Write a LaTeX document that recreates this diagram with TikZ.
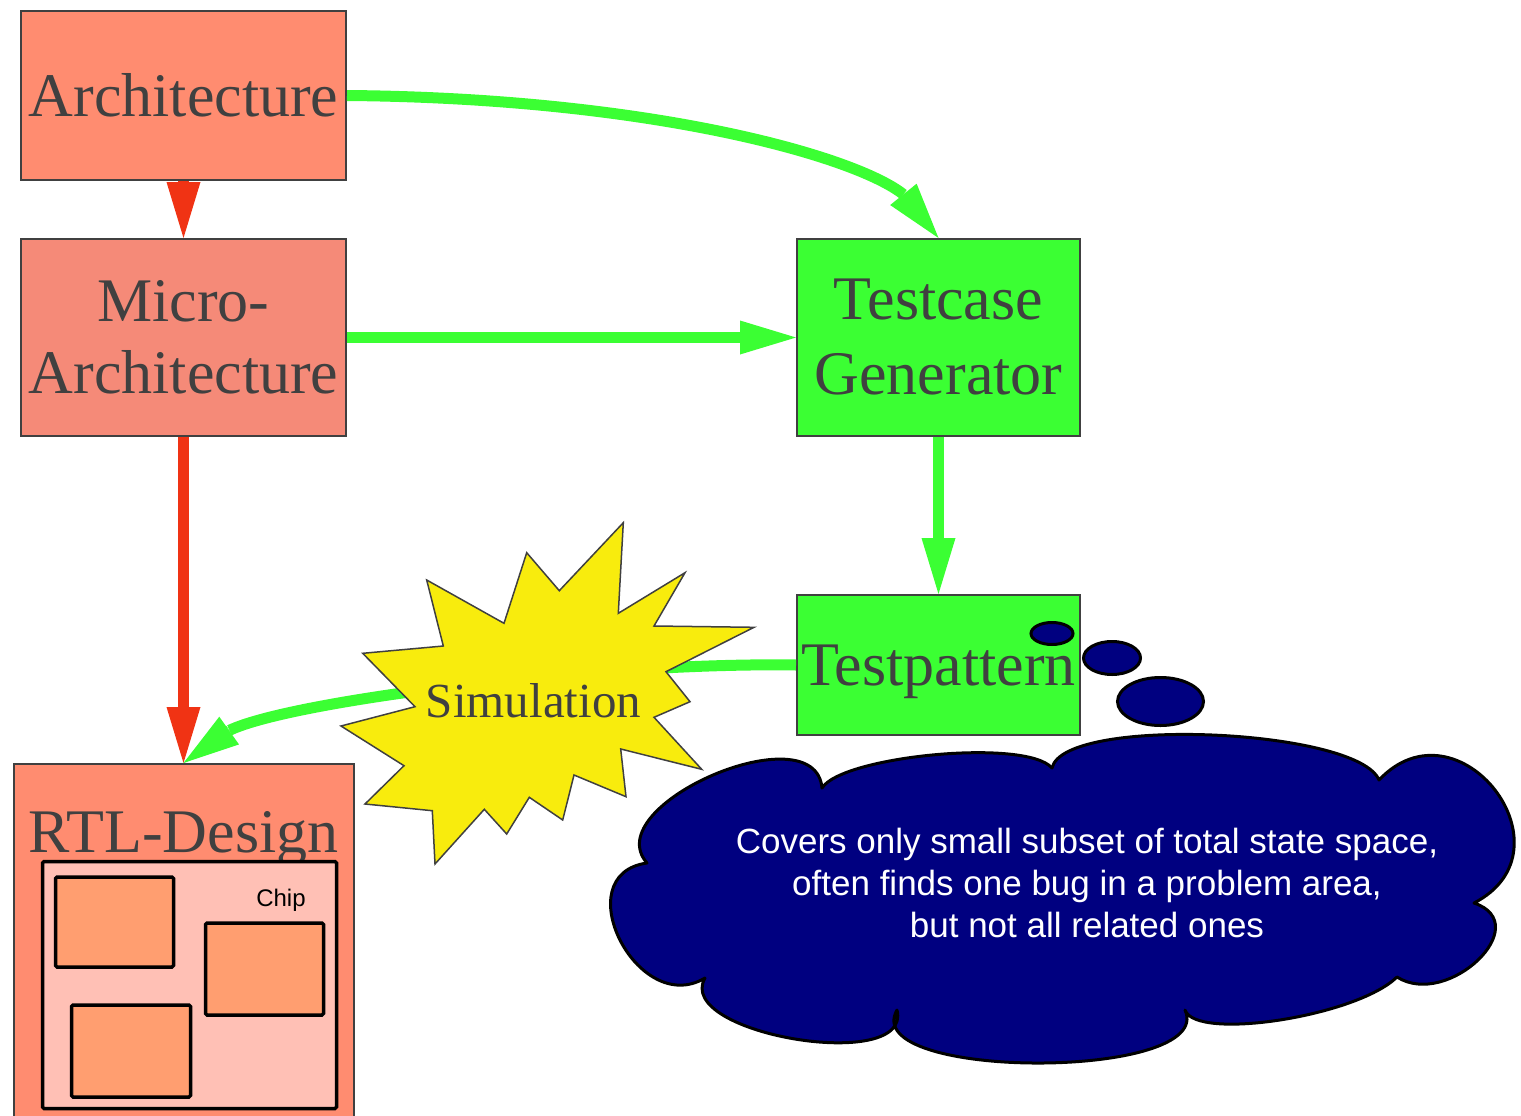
\documentclass[tikz,border=0pt]{standalone}
\usepackage{fontspec}
\setmainfont{Liberation Serif}
\newfontfamily\notesans{Liberation Sans}
\usetikzlibrary{arrows.meta}
\definecolor{salmonbox}{HTML}{FF8C70}
\definecolor{microbox}{HTML}{F58A78}
\definecolor{chipfill}{HTML}{FFC0B5}
\definecolor{blockfill}{HTML}{FF9E70}
\definecolor{flowgreen}{HTML}{3BFF33}
\definecolor{flowred}{HTML}{F03314}
\definecolor{burst}{HTML}{F8EC0D}
\definecolor{notenavy}{HTML}{000080}
\definecolor{edgegray}{HTML}{404040}

\begin{document}
\begin{tikzpicture}[x=1pt,y=-1pt,
  box/.style={draw=edgegray,line width=2pt,inner sep=0pt,text=edgegray,align=center,
              font=\fontsize{62}{72}\selectfont},
  flowtip/.style={-{Triangle[length=56pt,width=34pt,line width=0pt]}},
  greenline/.style={draw=flowgreen,line width=11pt},
  greenflow/.style={greenline,flowtip},
  redflow/.style={draw=flowred,line width=11pt,flowtip},
  block/.style={draw=black,line width=3.5pt,fill=blockfill,rounded corners=1.5pt,
                minimum width=118pt,minimum height=90pt,inner sep=0pt},
  bubble/.style={draw=black,line width=3pt,fill=notenavy},
]
\useasboundingbox (0,0) rectangle (1521,1116);
\clip (0,0) rectangle (1521,1116);

% RTL design with its chip floorplan
\node[box,fill=salmonbox,minimum width=340pt,minimum height=376pt] (rtl) at (183.5,952) {};
\node[text=edgegray,font=\fontsize{62}{72}\selectfont,anchor=base] (rtllabel) at (183.5,852) {RTL-Design};
\node[draw=black,line width=3.5pt,fill=chipfill,rounded corners=1.5pt,
      minimum width=294pt,minimum height=247pt,inner sep=0pt] (chip) at (189.5,985) {};
\node[font=\notesans\fontsize{24}{28}\selectfont,anchor=base] (chiplabel) at (281,906) {Chip};
\node[block] (blk1) at (114.5,922) {};
\node[block,minimum height=92pt] (blk2) at (264.5,969) {};
\node[block,minimum width=119pt,minimum height=92pt] (blk3) at (131,1051) {};

% design flow boxes
\node[box,fill=salmonbox,minimum width=325pt,minimum height=169pt] (arch) at (183.5,95.5) {Architecture};
\node[box,fill=microbox,minimum width=325pt,minimum height=197pt] (micro) at (183.5,337.5) {Micro-\\Architecture};
\node[box,fill=flowgreen,minimum width=283pt,minimum height=197pt,
      font=\fontsize{62}{75}\selectfont] (tc) at (938.5,337.5) {Testcase\\Generator};
\node[box,fill=flowgreen,minimum width=283pt,minimum height=140pt,text depth=0pt] (tp) at (938.5,665) {Testpattern};

% points where the curved connectors meet their arrow heads
\coordinate (tcbend) at (903.4,194.4);
\coordinate (rtlbend) at (229.5,730.3);

% connectors
\draw[redflow] (arch.south) -- (micro.north);
\draw[redflow] (micro.south) -- (rtl.north);
\draw[greenline] (arch.east) .. controls (650,98) and (855,156) .. (tcbend);
\draw[greenflow] (tcbend) -- (tc.north);
\draw[greenflow] (micro.east) -- (tc.west);
\draw[greenflow] (tc.south) -- (tp.north);
\draw[greenline] (tp.west) .. controls (600,662) and (293,700) .. (rtlbend);
\draw[greenflow] (rtlbend) -- (rtl.north);

% simulation burst
\filldraw[fill=burst,draw=edgegray,line width=1.5pt]
  (623.3,522.7) -- (618.3,613.3) -- (685,572.7) -- (654,626) -- (754,627.3)
  -- (666,671.7) -- (690,701.7) -- (654,717.3) -- (701.7,769.3) -- (620.7,749)
  -- (626,796.7) -- (574,775) -- (562.7,820) -- (529.3,797.3) -- (506.7,834)
  -- (484.3,809.3) -- (435,864) -- (432.3,810.7) -- (365,804) -- (404,765.7)
  -- (341,726) -- (415,706.7) -- (362.7,653.3) -- (443.3,646) -- (426.7,580)
  -- (504,623.3) -- (526.7,552.7) -- (559.3,590.7) -- cycle;
\node[text=edgegray,font=\fontsize{49}{56}\selectfont] (sim) at (533.5,701) {Simulation};

% thought bubbles
\draw[bubble] (1052,633.5) ellipse [x radius=21pt,y radius=11pt];
\draw[bubble] (1112,658) ellipse [x radius=28.5pt,y radius=16.5pt];
\draw[bubble] (1160.5,701.5) ellipse [x radius=43pt,y radius=24pt];
\draw[bubble,line join=round]
  (647,863) .. controls (596.4,805.1) and (815.2,711.3) .. (822,788)
  .. controls (842,756) and (1026,738) .. (1052,768)
  .. controls (1063.7,715.4) and (1357.9,728.6) .. (1379,780)
  .. controls (1458.4,695.9) and (1577.2,849.7) .. (1474,903)
  .. controls (1536.5,924.1) and (1447.9,1009.3) .. (1397,977)
  .. controls (1356.9,1016.3) and (1195.7,1041.3) .. (1185,1010)
  .. controls (1217,1080.7) and (857,1080.7) .. (897,1010)
  .. controls (913,1074) and (673,1034) .. (705,978)
  .. controls (637.6,1018.4) and (565,874.6) .. (647,863) -- cycle;
\node[text=white,align=center,font=\notesans\fontsize{35}{42}\selectfont] (note) at (1087,883)
  {Covers only small subset of total state space,\\often finds one bug in a problem area,\\but not all related ones};
\end{tikzpicture}
\end{document}
